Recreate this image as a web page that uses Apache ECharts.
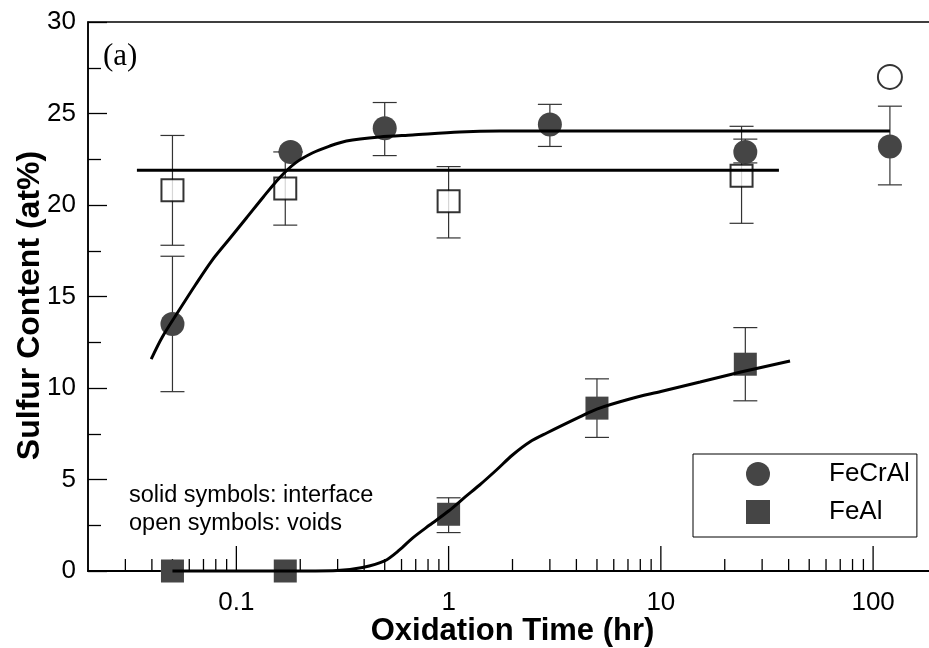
<!DOCTYPE html>
<html>
<head>
<meta charset="utf-8">
<script src="https://cdn.jsdelivr.net/npm/echarts@6/dist/echarts.min.js"></script>
<style>html,body{margin:0;padding:0;background:#fff;}#c{width:929px;height:648px;}</style>
</head>
<body>
<div id="c"></div>
<script>
// ---- data ----
const fecrAlX = [0.05, 0.18, 0.5, 3, 25, 120];
const fecrAlY = [13.5, 22.9, 24.2, 24.4, 22.9, 23.2];
const fecrAlLo = [9.8, 22.9, 22.7, 23.2, 22.3, 21.1];
const fecrAlHi = [17.2, 22.9, 25.6, 25.5, 23.6, 25.4];

const voidSqX = [0.05, 0.17, 1, 24];
const voidSqY = [20.8, 20.9, 20.2, 21.6];
const voidSqLo = [17.8, 18.9, 18.2, 19.0];
const voidSqHi = [23.8, 22.9, 22.1, 24.3];

const voidCircX = [120];
const voidCircY = [27.0];

const feAlX = [0.05, 0.17, 1, 5, 25];
const feAlY = [0, 0, 3.1, 8.9, 11.3];
const feAlLo = [0, 0, 2.1, 7.3, 9.3];
const feAlHi = [0, 0, 4.0, 10.5, 13.3];

const fecrFitX = [0.0397, 0.0448, 0.0538, 0.0641, 0.077, 0.0927, 0.1115, 0.134, 0.1595, 0.19, 0.228, 0.275, 0.33, 0.473, 0.676, 1.127, 1.74, 5.15, 120];
const fecrFitY = [11.58, 12.79, 14.26, 15.63, 16.99, 18.14, 19.29, 20.44, 21.48, 22.30, 22.84, 23.22, 23.50, 23.72, 23.83, 23.99, 24.04, 24.04, 24.04];

const voidFitX = [0.034, 36];
const voidFitY = [21.9, 21.9];

const feAlFitX = [0.05, 0.166, 0.299, 0.393, 0.499, 0.587, 0.676, 0.814, 1.0, 1.19, 1.40, 1.68, 2.0, 2.41, 2.90, 4.15, 4.99, 7.14, 10, 15.3, 23.8, 40.6];
const feAlFitY = [0, 0, 0.03, 0.19, 0.55, 1.15, 1.80, 2.51, 3.28, 4.02, 4.70, 5.52, 6.34, 7.05, 7.54, 8.42, 8.85, 9.40, 9.81, 10.33, 10.87, 11.48];

const xMajorTicks = [0.1, 1, 10, 100];
const xMinorTicks = [0.03,0.04,0.05,0.06,0.07,0.08,0.09,
  0.2,0.3,0.4,0.5,0.6,0.7,0.8,0.9,
  2,3,4,5,6,7,8,9,
  20,30,40,50,60,70,80,90];

// ---- helpers ----
const zip = (xs, ys) => xs.map((x, i) => [x, ys[i]]);
const zip3 = (xs, lo, hi) => xs.map((x, i) => [x, lo[i], hi[i]]);
const SANS = 'Liberation Sans, Arial, Helvetica, sans-serif';
const MARK = '#454545';

function errRender(params, api) {
  const x = api.value(0);
  const lo = api.coord([x, api.value(1)]);
  const hi = api.coord([x, api.value(2)]);
  const w = 12;
  const st = { stroke: '#333', lineWidth: 1.2 };
  return { type: 'group', children: [
    { type: 'line', shape: { x1: lo[0], y1: lo[1], x2: hi[0], y2: hi[1] }, style: st },
    { type: 'line', shape: { x1: lo[0]-w, y1: lo[1], x2: lo[0]+w, y2: lo[1] }, style: st },
    { type: 'line', shape: { x1: hi[0]-w, y1: hi[1], x2: hi[0]+w, y2: hi[1] }, style: st }
  ]};
}
function tickRender(len) {
  return function (params, api) {
    const p = api.coord([api.value(0), 0]);
    return { type: 'line', shape: { x1: p[0], y1: p[1], x2: p[0], y2: p[1] - len },
      style: { stroke: '#000', lineWidth: 1.3 } };
  };
}

const chart = echarts.init(document.getElementById('c'), null, { renderer: 'canvas' });
chart.setOption({
  animation: false,
  backgroundColor: '#fff',
  grid: { left: 88, top: 22, bottom: 77, right: -8, outerBoundsMode: 'none', containLabel: false,
    show: true, borderColor: '#000', borderWidth: 1.5 },
  xAxis: {
    type: 'log', logBase: 10, min: 0.02, max: 200,
    name: 'Oxidation Time (hr)', nameLocation: 'middle', nameGap: 45, nameMoveOverlap: false,
    nameTextStyle: { fontFamily: SANS, fontWeight: 'bold', fontSize: 31, color: '#000' },
    axisLine: { show: true, lineStyle: { color: '#000', width: 2 } },
    axisTick: { show: false },
    splitLine: { show: false },
    minorTick: { show: false },
    axisLabel: { fontFamily: SANS, fontSize: 26, color: '#000', margin: 19,
      showMinLabel: false, showMaxLabel: false,
      formatter: v => { const r = +(+v).toPrecision(6); return (r === 0.1 || r === 1 || r === 10 || r === 100) ? String(r) : ''; } }
  },
  yAxis: {
    type: 'value', min: 0, max: 30, interval: 5,
    name: 'Sulfur Content (at%)', nameLocation: 'middle', nameGap: 42, nameMoveOverlap: false,
    nameTextStyle: { fontFamily: SANS, fontWeight: 'bold', fontSize: 32, color: '#000', padding: [0, 18, 0, 0] },
    axisLine: { show: true, lineStyle: { color: '#000', width: 1.5 } },
    axisTick: { show: true, inside: true, length: 19, lineStyle: { color: '#000', width: 1.3 } },
    minorTick: { show: true, splitNumber: 2, length: 13, lineStyle: { color: '#000', width: 1.3 } },
    splitLine: { show: false },
    axisLabel: { fontFamily: SANS, fontSize: 26, color: '#000', margin: 12 }
  },
  legend: {
    orient: 'vertical', left: 693, top: 454,
    itemWidth: 24, itemHeight: 24, itemGap: 12,
    padding: [7, 7, 12, 53],
    borderColor: '#000', borderWidth: 1, backgroundColor: '#fff',
    textStyle: { fontFamily: SANS, fontSize: 26, color: '#000', padding: [0, 0, 0, 54] },
    data: [{ name: 'FeCrAl', icon: 'circle' }, { name: 'FeAl', icon: 'rect' }]
  },
  graphic: [
    { type: 'text', left: 103, top: 41, style: { text: '(a)', font: '31px "Liberation Serif", "Times New Roman", serif', fill: '#000' } },
    { type: 'text', left: 129, top: 482, style: { text: 'solid symbols: interface\nopen symbols: voids', font: '23.5px ' + SANS, fill: '#000', lineHeight: 28 } }
  ],
  series: [
    { type: 'custom', name: 'xMajor', data: xMajorTicks.map(v => [v, 0]), renderItem: tickRender(25), silent: true, z: 1 },
    { type: 'custom', name: 'xMinor', data: xMinorTicks.map(v => [v, 0]), renderItem: tickRender(12), silent: true, z: 1 },
    { type: 'custom', name: 'errFeCrAl', data: zip3(fecrAlX, fecrAlLo, fecrAlHi), renderItem: errRender, silent: true, z: 2 },
    { type: 'custom', name: 'errVoid', data: zip3(voidSqX, voidSqLo, voidSqHi), renderItem: errRender, silent: true, z: 2 },
    { type: 'custom', name: 'errFeAl', data: zip3(feAlX, feAlLo, feAlHi), renderItem: errRender, silent: true, z: 2 },
    { type: 'scatter', name: 'FeCrAl', data: zip(fecrAlX, fecrAlY), symbol: 'circle', symbolSize: 24,
      itemStyle: { color: MARK, opacity: 1 }, clip: false, z: 3 },
    { type: 'scatter', name: 'voids', data: zip(voidSqX, voidSqY), symbol: 'rect', symbolSize: 22,
      itemStyle: { color: '#fff', borderColor: '#000', borderWidth: 2 }, clip: false, z: 3 },
    { type: 'scatter', name: 'voidsCircle', data: zip(voidCircX, voidCircY), symbol: 'circle', symbolSize: 24,
      itemStyle: { color: '#fff', borderColor: '#000', borderWidth: 2 }, clip: false, z: 3 },
    { type: 'scatter', name: 'FeAl', data: zip(feAlX, feAlY), symbol: 'rect', symbolSize: 23,
      itemStyle: { color: MARK, opacity: 1 }, clip: false, z: 3 },
    { type: 'line', name: 'fitFeCrAl', data: zip(fecrFitX, fecrFitY), smooth: 0.3, showSymbol: false,
      lineStyle: { color: '#000', width: 3 }, z: 4, silent: true },
    { type: 'line', name: 'fitVoid', data: zip(voidFitX, voidFitY), showSymbol: false,
      lineStyle: { color: '#000', width: 3 }, z: 4, silent: true },
    { type: 'line', name: 'fitFeAl', data: zip(feAlFitX, feAlFitY), smooth: 0.3, showSymbol: false,
      lineStyle: { color: '#000', width: 3 }, z: 4, silent: true, clip: false }
  ]
});
</script>
</body>
</html>
